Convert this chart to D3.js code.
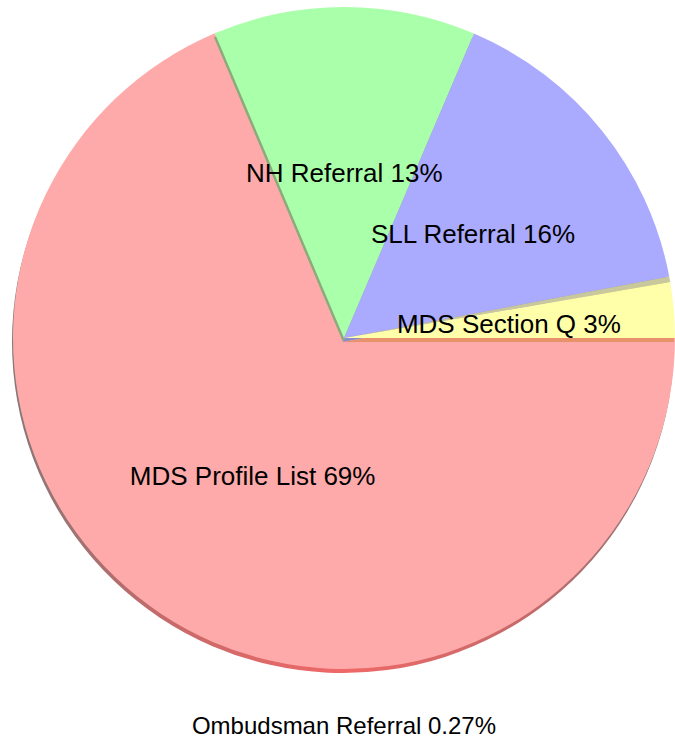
<!DOCTYPE html>
<html>
<head>
<meta charset="utf-8">
<script src="https://cdn.jsdelivr.net/npm/d3@7"></script>
<style>
  body { margin: 0; background: #fff; }
  #chart text { font-family: "Liberation Sans", Arial, sans-serif; fill: #000; }
</style>
</head>
<body>
<div id="chart"></div>
<script>
// slices, counter-clockwise from 3 o'clock
var categories = ["MDS Section Q", "Ombudsman Referral", "SLL Referral", "NH Referral", "MDS Profile List"];
var values = [2.7, 0.27, 15.6, 12.8, 68.6];
var colors = ["#ffffaa", "#c9c79c", "#aaaaff", "#aaffaa", "#ffaaaa"];
var sideColors = ["#e8926c", "#a8a67c", "#8c8ccc", "#8caa7c", "url(#redside)"];

var width = 675, height = 740;
var cx = 344, cy = 338, r = 331, depth = 4;

var svg = d3.select("#chart").append("svg")
  .attr("width", width)
  .attr("height", height);

var defs = svg.append("defs");
var grad = defs.append("linearGradient").attr("id", "redside")
  .attr("x1", "0%").attr("x2", "100%").attr("y1", "0%").attr("y2", "0%");
[["0%", "#857878"], ["22%", "#c46a6a"], ["50%", "#f06868"], ["78%", "#c46a6a"], ["100%", "#857878"]]
  .forEach(function(s){ grad.append("stop").attr("offset", s[0]).attr("stop-color", s[1]); });

var pie = d3.pie().sort(null).value(function(d){ return d; })
  .startAngle(Math.PI / 2)
  .endAngle(Math.PI / 2 - 2 * Math.PI);

var arc = d3.arc().innerRadius(0).outerRadius(r);
var arcs = pie(values);

// draw from the big slice to the small ones so the cut edges overlap like the original
var order = [4, 3, 2, 1, 0];
var g = svg.append("g").attr("transform", "translate(" + cx + "," + cy + ")");

order.forEach(function(i){
  var a = arcs[i];
  g.append("path")
    .attr("d", arc(a))
    .attr("transform", "translate(-1," + depth + ")")
    .style("fill", sideColors[i]);
  g.append("path")
    .attr("d", arc(a))
    .style("fill", colors[i]);
});

function fmt(v) {
  return v < 1 ? d3.format(".2f")(v) + "%" : d3.format(".0f")(v) + "%";
}

// labels inside the slices, at half radius
arcs.forEach(function(a, i){
  if (values[i] < 1) return;
  var c = arc.centroid(a);
  g.append("text")
    .attr("x", c[0])
    .attr("y", c[1])
    .attr("dy", "0.35em")
    .attr("text-anchor", "middle")
    .style("font-size", "26px")
    .text(categories[i] + " " + fmt(values[i]));
});

// the tiny slice gets its label under the pie
arcs.forEach(function(a, i){
  if (values[i] >= 1) return;
  svg.append("text")
    .attr("x", cx)
    .attr("y", 726)
    .attr("dy", "0.35em")
    .attr("text-anchor", "middle")
    .style("font-size", "24px")
    .text(categories[i] + " " + fmt(values[i]));
});
</script>
</body>
</html>
